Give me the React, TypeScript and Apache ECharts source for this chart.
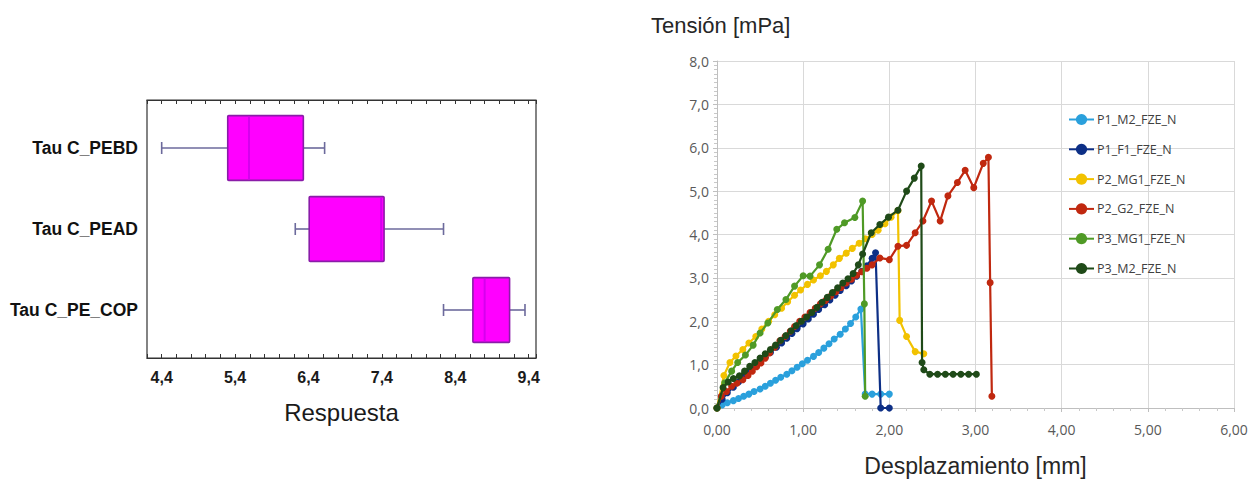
import React, { useEffect, useRef } from 'react';
import * as echarts from 'echarts';

// ---------- Left chart: box plot ----------
const boxCategories = ['Tau C_PEBD', 'Tau C_PEAD', 'Tau C_PE_COP'];
const boxLow = [4.4, 6.22, 8.24];
const boxQ1 = [5.3, 6.41, 8.64];
const boxMedian = [5.59, 7.39, 8.8];
const boxQ3 = [6.33, 7.43, 9.14];
const boxHigh = [6.62, 8.24, 9.35];
const boxTickLabels = [4.4, 5.4, 6.4, 7.4, 8.4, 9.4];

// ---------- Right chart: line series ----------
const seriesNames = ['P1_M2_FZE_N', 'P1_F1_FZE_N', 'P2_MG1_FZE_N', 'P2_G2_FZE_N', 'P3_MG1_FZE_N', 'P3_M2_FZE_N'];
const seriesColors = ['#2aa0dc', '#0d2f86', '#f2c200', '#c0280f', '#4f9a26', '#1f4a18'];

const p1m2X = [0, 0.06, 0.12, 0.19, 0.25, 0.31, 0.37, 0.43, 0.5, 0.56, 0.62, 0.68, 0.74, 0.81, 0.87, 0.93, 0.99, 1.05, 1.12, 1.18, 1.24, 1.3, 1.36, 1.43, 1.49, 1.55, 1.61, 1.67, 1.72, 1.8, 1.9, 2.0];
const p1m2Y = [0, 0.07, 0.12, 0.17, 0.22, 0.27, 0.32, 0.38, 0.44, 0.5, 0.57, 0.64, 0.71, 0.78, 0.86, 0.94, 1.02, 1.1, 1.19, 1.28, 1.38, 1.48, 1.59, 1.7, 1.82, 1.95, 2.1, 2.28, 0.32, 0.32, 0.32, 0.32];

const p1f1X = [0, 0.06, 0.12, 0.19, 0.25, 0.31, 0.37, 0.43, 0.5, 0.56, 0.62, 0.69, 0.75, 0.81, 0.87, 0.93, 1.0, 1.06, 1.12, 1.18, 1.25, 1.31, 1.37, 1.43, 1.5, 1.56, 1.62, 1.68, 1.74, 1.8, 1.84, 1.9, 2.0];
const p1f1Y = [0, 0.2, 0.35, 0.48, 0.6, 0.72, 0.84, 0.95, 1.06, 1.17, 1.28, 1.4, 1.5, 1.61, 1.72, 1.83, 1.94, 2.05, 2.16, 2.27, 2.38, 2.49, 2.6, 2.71, 2.82, 2.93, 3.04, 3.15, 3.28, 3.45, 3.58, 0, 0];

const p2mg1X = [0, 0.08, 0.15, 0.22, 0.3, 0.37, 0.45, 0.52, 0.6, 0.67, 0.75, 0.82, 0.9, 0.97, 1.05, 1.12, 1.2, 1.27, 1.35, 1.42, 1.5, 1.57, 1.65, 1.72, 1.8, 1.87, 1.95, 2.02, 2.1, 2.12, 2.2, 2.3, 2.4];
const p2mg1Y = [0, 0.75, 1.05, 1.2, 1.35, 1.5, 1.65, 1.82, 2.0, 2.15, 2.3, 2.45, 2.6, 2.72, 2.85, 2.95, 3.05, 3.15, 3.3, 3.45, 3.57, 3.68, 3.8, 3.9, 4.0, 4.1, 4.25, 4.4, 4.55, 2.02, 1.65, 1.3, 1.25];

const p2g2X = [0, 0.05, 0.11, 0.17, 0.23, 0.3, 0.36, 0.41, 0.46, 0.51, 0.56, 0.61, 0.67, 0.73, 0.79, 0.85, 0.9, 0.96, 1.02, 1.08, 1.14, 1.2, 1.26, 1.32, 1.38, 1.44, 1.5, 1.56, 1.62, 1.68, 1.74, 1.8, 1.89, 2.0, 2.1, 2.2, 2.3, 2.39, 2.49, 2.59, 2.68, 2.79, 2.88, 2.98, 3.09, 3.15, 3.17, 3.19];
const p2g2Y = [0, 0.27, 0.38, 0.5, 0.57, 0.65, 0.75, 0.85, 0.95, 1.04, 1.15, 1.27, 1.4, 1.55, 1.65, 1.77, 1.88, 2.0, 2.1, 2.2, 2.3, 2.4, 2.48, 2.58, 2.68, 2.78, 2.88, 2.97, 3.06, 3.14, 3.22, 3.3, 3.46, 3.42, 3.73, 3.75, 4.04, 4.31, 4.77, 4.31, 4.89, 5.2, 5.48, 5.08, 5.64, 5.78, 2.89, 0.27];

const p3mg1X = [0, 0.09, 0.17, 0.24, 0.33, 0.42, 0.5, 0.59, 0.7, 0.8, 0.9, 1.0, 1.08, 1.19, 1.29, 1.39, 1.48, 1.6, 1.69, 1.71, 1.72];
const p3mg1Y = [0, 0.58, 0.85, 1.05, 1.22, 1.45, 1.73, 1.96, 2.27, 2.5, 2.81, 3.05, 3.04, 3.3, 3.66, 4.12, 4.27, 4.39, 4.77, 2.4, 0.27];

const p3m2X = [0, 0.07, 0.13, 0.19, 0.26, 0.32, 0.38, 0.44, 0.5, 0.56, 0.62, 0.68, 0.74, 0.8, 0.86, 0.92, 0.98, 1.04, 1.1, 1.16, 1.22, 1.28, 1.34, 1.4, 1.46, 1.52, 1.58, 1.64, 1.69, 1.79, 1.89, 1.99, 2.1, 2.2, 2.29, 2.37, 2.38, 2.4, 2.47, 2.56, 2.65, 2.74, 2.83, 2.92, 3.01];
const p3m2Y = [0, 0.47, 0.6, 0.68, 0.74, 0.85, 0.96, 1.05, 1.15, 1.25, 1.35, 1.45, 1.56, 1.67, 1.78, 1.9, 2.0, 2.1, 2.2, 2.32, 2.44, 2.55, 2.66, 2.77, 2.88, 2.98, 3.1, 3.3, 3.55, 4.04, 4.23, 4.4, 4.56, 5.0, 5.3, 5.58, 1.05, 0.88, 0.78, 0.78, 0.78, 0.78, 0.78, 0.78, 0.78];

const seriesX = [p1m2X, p1f1X, p2mg1X, p2g2X, p3mg1X, p3m2X];
const seriesY = [p1m2Y, p1f1Y, p2mg1Y, p2g2Y, p3mg1Y, p3m2Y];

const arial = "'Liberation Sans', Arial, sans-serif";

export default function App() {
  const ref = useRef<HTMLDivElement>(null);

  useEffect(() => {
    if (!ref.current) return;
    const chart = echarts.init(ref.current, undefined, { renderer: 'svg' });

    const boxData = boxCategories.map((_, i) => [i, boxLow[i], boxQ1[i], boxMedian[i], boxQ3[i], boxHigh[i]]);

    const lineSeries = seriesNames.map((name, s) => ({
      name,
      type: 'line',
      xAxisIndex: 3,
      yAxisIndex: 2,
      data: seriesX[s].map((x, i) => [x, seriesY[s][i]]),
      symbol: 'circle',
      symbolSize: 7,
      showSymbol: true,
      lineStyle: { width: 2.2, color: seriesColors[s] },
      itemStyle: { color: seriesColors[s] },
      z: 3 + s,
    }));

    const option: any = {
      animation: false,
      backgroundColor: '#ffffff',
      title: {
        text: 'Tensión [mPa]',
        left: 646,
        top: 9,
        textStyle: { fontFamily: arial, fontSize: 22, fontWeight: 'normal', color: '#262626' },
      },
      legend: {
        orient: 'vertical',
        left: 1063,
        top: 108,
        itemGap: 16.8,
        itemWidth: 25,
        itemHeight: 14,
        data: seriesNames,
        textStyle: { fontFamily: "'Open Sans', sans-serif", fontSize: 12.5, color: '#404040', padding: [0, 0, 0, -2] },
      },
      grid: [
        { left: 147, width: 389, top: 100, height: 258, show: true, borderColor: '#333', borderWidth: 1.2, backgroundColor: 'transparent' },
        { left: 147, width: 389, top: 107.5, height: 243 },
        { left: 717, width: 517, top: 61, height: 347 },
      ],
      xAxis: [
        {
          gridIndex: 0, type: 'value', position: 'bottom', min: 4.2, max: 9.5, interval: 0.2,
          axisLine: { show: true, lineStyle: { color: '#333', width: 1.2 } },
          axisTick: { show: true, inside: true, length: 4, lineStyle: { color: '#333' } },
          splitLine: { show: false },
          axisLabel: {
            margin: 11,
            fontFamily: arial, fontWeight: 'bold', fontSize: 16, color: '#1a1a1a',
            formatter: (v: number) => boxTickLabels.some((t) => Math.abs(t - v) < 1e-6) ? v.toFixed(1).replace('.', ',') : '',
          },
          name: 'Respuesta', nameLocation: 'middle', nameGap: 42,
          nameTextStyle: { fontFamily: arial, fontSize: 24, color: '#1a1a1a' },
        },
        {
          gridIndex: 0, type: 'value', position: 'top', min: 4.2, max: 9.5, interval: 0.2,
          axisLine: { show: true, lineStyle: { color: '#333', width: 1.2 } },
          axisTick: { show: true, inside: true, length: 4, lineStyle: { color: '#333' } },
          splitLine: { show: false },
          axisLabel: { show: false },
        },
        {
          gridIndex: 1, type: 'value', min: 4.2, max: 9.5, show: false,
        },
        {
          gridIndex: 2, type: 'value', min: 0, max: 6, interval: 1,
          axisLine: { show: true, lineStyle: { color: '#bfbfbf' } },
          axisTick: { show: true, length: 4, lineStyle: { color: '#bfbfbf' } },
          minorTick: { show: true, splitNumber: 5, length: 3, lineStyle: { color: '#c8c8c8' } },
          splitLine: { show: true, lineStyle: { color: '#d9d9d9', width: 1 } },
          axisLabel: {
            margin: 14,
            fontFamily: "'Open Sans', sans-serif", fontSize: 14, color: '#595959',
            formatter: (v: number) => v.toFixed(2).replace('.', ','),
          },
          name: 'Desplazamiento [mm]', nameLocation: 'middle', nameGap: 46,
          nameTextStyle: { fontFamily: arial, fontSize: 23, color: '#262626' },
        },
      ],
      yAxis: [
        { gridIndex: 0, type: 'value', min: 0, max: 1, show: false },
        {
          gridIndex: 1, type: 'category', data: boxCategories, inverse: true,
          axisLine: { show: false }, axisTick: { show: false }, splitLine: { show: false },
          axisLabel: { margin: 9, fontFamily: arial, fontWeight: 'bold', fontSize: 17.5, color: '#111' },
        },
        {
          gridIndex: 2, type: 'value', min: 0, max: 8, interval: 1,
          axisLine: { show: true, lineStyle: { color: '#bfbfbf' } },
          axisTick: { show: true, length: 4, lineStyle: { color: '#bfbfbf' } },
          minorTick: { show: true, splitNumber: 10, length: 3, lineStyle: { color: '#c8c8c8' } },
          splitLine: { show: true, lineStyle: { color: '#d9d9d9', width: 1 } },
          axisLabel: {
            margin: 8,
            fontFamily: "'Open Sans', sans-serif", fontSize: 14, color: '#595959',
            formatter: (v: number) => v.toFixed(1).replace('.', ','),
          },
        },
      ],
      series: [
        {
          type: 'custom',
          xAxisIndex: 2,
          yAxisIndex: 1,
          data: boxData,
          encode: { x: [1, 2, 3, 4, 5], y: 0 },
          renderItem: (params: any, api: any) => {
            const cat = api.value(0);
            const lo = api.coord([api.value(1), cat]);
            const q1 = api.coord([api.value(2), cat]);
            const md = api.coord([api.value(3), cat]);
            const q3 = api.coord([api.value(4), cat]);
            const hi = api.coord([api.value(5), cat]);
            const band = api.size([0, 1])[1];
            const h = band * 0.8;
            const cy = lo[1];
            const cap = 6;
            const whisker = { stroke: '#6c6a9c', lineWidth: 1.6 };
            return {
              type: 'group',
              children: [
                { type: 'line', shape: { x1: lo[0], y1: cy, x2: q1[0], y2: cy }, style: whisker },
                { type: 'line', shape: { x1: q3[0], y1: cy, x2: hi[0], y2: cy }, style: whisker },
                { type: 'line', shape: { x1: lo[0], y1: cy - cap, x2: lo[0], y2: cy + cap }, style: whisker },
                { type: 'line', shape: { x1: hi[0], y1: cy - cap, x2: hi[0], y2: cy + cap }, style: whisker },
                {
                  type: 'rect',
                  shape: { x: q1[0], y: cy - h / 2, width: q3[0] - q1[0], height: h, r: 1 },
                  style: { fill: '#ff00ff', stroke: '#8a1ca8', lineWidth: 1.6 },
                },
                { type: 'line', shape: { x1: md[0], y1: cy - h / 2 + 1, x2: md[0], y2: cy + h / 2 - 1 }, style: { stroke: '#d600ee', lineWidth: 2 } },
              ],
            };
          },
          z: 2,
        },
        ...lineSeries,
      ],
    };

    chart.setOption(option);
    return () => chart.dispose();
  }, []);

  return (
    <div
      ref={ref}
      style={{ position: 'fixed', left: 0, top: 0, width: 1255, height: 486, background: '#fff' }}
    />
  );
}
